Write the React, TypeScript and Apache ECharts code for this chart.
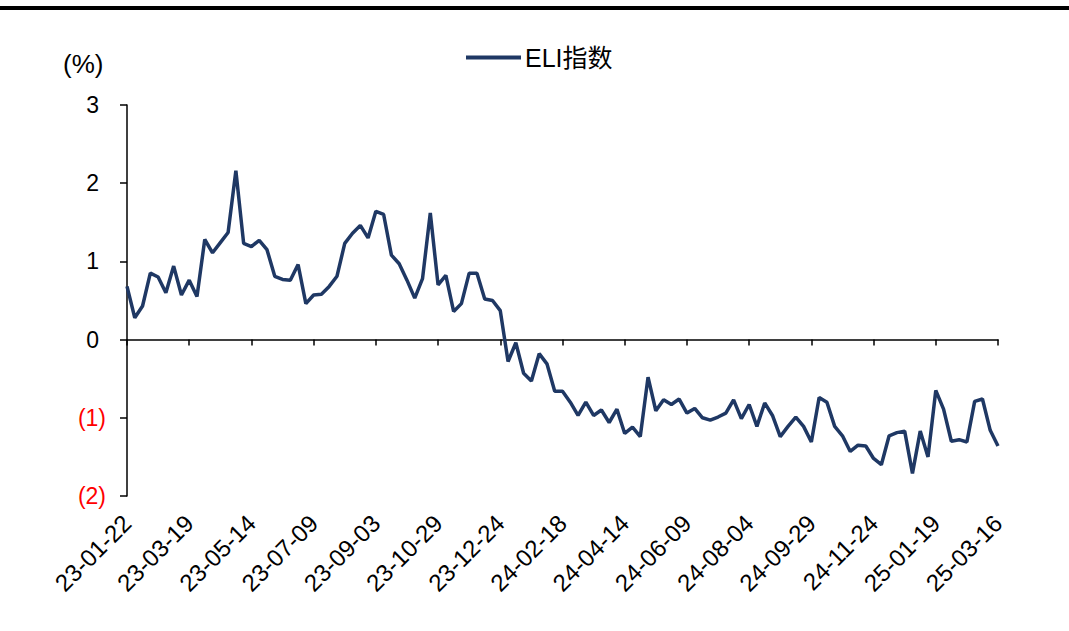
import React, { useEffect, useRef } from "react";
import * as echarts from "echarts";

// Weekly observation dates, starting 2023-01-22 (yy-mm-dd labels)
const startDateUTC = Date.UTC(2023, 0, 22);
const weekCount = 113;
const categories: string[] = Array.from({ length: weekCount }, (_, i) => {
  const d = new Date(startDateUTC + i * 7 * 86400000);
  const yy = String(d.getUTCFullYear() % 100).padStart(2, "0");
  const mm = String(d.getUTCMonth() + 1).padStart(2, "0");
  const dd = String(d.getUTCDate()).padStart(2, "0");
  return `${yy}-${mm}-${dd}`;
});

const seriesName = "ELI指数";
const eliValues: number[] = [
  0.68, 0.28, 0.43, 0.85, 0.8, 0.6, 0.94, 0.57, 0.76, 0.55,
  1.28, 1.11, 1.24, 1.37, 2.16, 1.23, 1.19, 1.27, 1.15, 0.81,
  0.77, 0.76, 0.96, 0.46, 0.57, 0.58, 0.68, 0.81, 1.23, 1.36,
  1.46, 1.3, 1.64, 1.6, 1.08, 0.97, 0.76, 0.53, 0.78, 1.62,
  0.7, 0.82, 0.36, 0.46, 0.85, 0.85, 0.52, 0.5, 0.37, -0.28,
  -0.04, -0.43, -0.53, -0.18, -0.31, -0.66, -0.66, -0.8, -0.97, -0.8,
  -0.97, -0.9, -1.06, -0.89, -1.2, -1.12, -1.24, -0.48, -0.91, -0.77,
  -0.83, -0.76, -0.94, -0.88, -1.0, -1.03, -0.99, -0.94, -0.77, -1.01,
  -0.83, -1.11, -0.81, -0.97, -1.24, -1.11, -0.99, -1.11, -1.31, -0.74,
  -0.8, -1.11, -1.23, -1.43, -1.35, -1.36, -1.52, -1.6, -1.23, -1.19,
  -1.17, -1.71, -1.17, -1.5, -0.65, -0.89, -1.3, -1.28, -1.31, -0.79,
  -0.76, -1.16, -1.36,
];

const yMin = -2;
const yMax = 3;
const yInterval = 1;
const unitLabel = "(%)";

const FONT = "'Liberation Sans', Arial, 'Noto Sans CJK SC', sans-serif";
const LINE_COLOR = "#1F3864";

export default function App() {
  const ref = useRef<HTMLDivElement>(null);

  useEffect(() => {
    if (!ref.current) return;
    const chart = echarts.init(ref.current, undefined, { renderer: "svg" });
    chart.setOption({
      animation: false,
      backgroundColor: "#ffffff",
      textStyle: { fontFamily: FONT },
      grid: { left: 127, right: 71, top: 105, bottom: 135, containLabel: false },
      legend: {
        show: true,
        left: 459,
        top: 40,
        itemWidth: 55,
        itemHeight: 14,
        itemGap: 10,
        data: [seriesName],
        itemStyle: { opacity: 0 },
        lineStyle: { width: 4, color: LINE_COLOR },
        textStyle: { fontSize: 25, color: "#000", fontFamily: FONT, padding: [0, 0, 0, -1] },
      },
      graphic: [
        { type: "rect", shape: { x: 0, y: 6, width: 1069, height: 4 }, style: { fill: "#000" } },
        {
          type: "text",
          left: 63,
          top: 51,
          style: { text: unitLabel, fontSize: 26, fill: "#000", fontFamily: FONT },
        },
      ],
      xAxis: [
        {
          type: "category",
          data: categories,
          boundaryGap: false,
          axisLine: { show: true, onZero: true, lineStyle: { color: "#000", width: 1.5 } },
          axisTick: { show: true, interval: 7, length: 6, lineStyle: { color: "#000", width: 1.5 } },
          axisLabel: { show: false },
          splitLine: { show: false },
        },
        {
          type: "category",
          data: categories,
          boundaryGap: false,
          position: "bottom",
          axisLine: { show: false, onZero: false },
          axisTick: { show: false },
          axisLabel: {
            show: true,
            interval: 7,
            rotate: 45,
            margin: 23,
            fontSize: 24,
            color: "#000",
            fontFamily: FONT,
          },
          splitLine: { show: false },
        },
      ],
      yAxis: {
        type: "value",
        min: yMin,
        max: yMax,
        interval: yInterval,
        axisLine: { show: true, lineStyle: { color: "#000", width: 1.5 } },
        axisTick: { show: true, length: 7, lineStyle: { color: "#000", width: 1.5 } },
        splitLine: { show: false },
        axisLabel: {
          margin: 21,
          fontSize: 23,
          fontFamily: FONT,
          formatter: (v: number) => (v < 0 ? `{neg|(${-v})}` : `{pos|${v}}`),
          rich: {
            neg: { color: "#FF0000", fontSize: 23, fontFamily: FONT },
            pos: { color: "#000000", fontSize: 23, fontFamily: FONT, padding: [0, 7, 0, 0] },
          },
        },
      },
      series: [
        {
          name: seriesName,
          type: "line",
          xAxisIndex: 0,
          data: eliValues,
          symbol: "none",
          lineStyle: { color: LINE_COLOR, width: 3.5 },
          itemStyle: { color: LINE_COLOR },
        },
      ],
    });
    return () => chart.dispose();
  }, []);

  return (
    <div
      ref={ref}
      style={{ position: "fixed", left: 0, top: 0, width: 1069, height: 631, background: "#fff" }}
    />
  );
}
